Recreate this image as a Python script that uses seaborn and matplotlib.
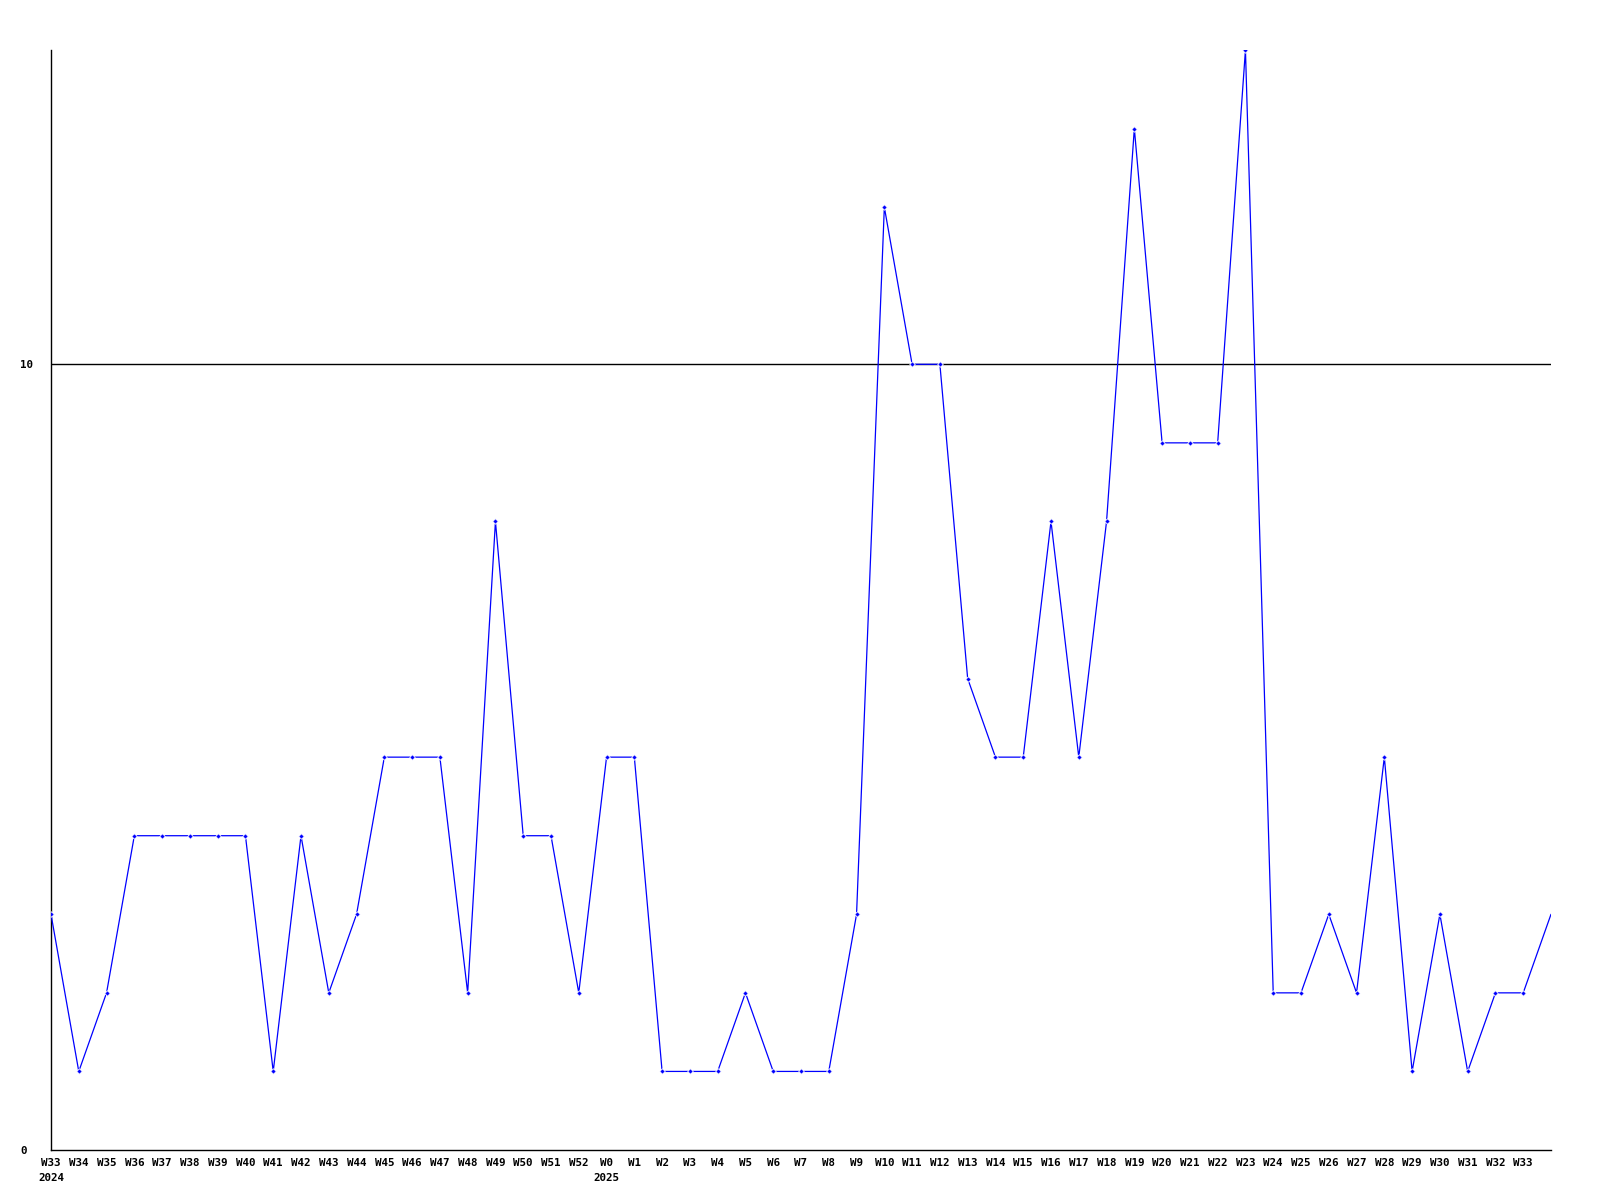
import matplotlib
matplotlib.use("Agg")
import matplotlib.pyplot as plt
import seaborn as sns
import pandas as pd
import numpy as np

weeks = ["W33", "W34", "W35", "W36", "W37", "W38", "W39", "W40", "W41", "W42",
         "W43", "W44", "W45", "W46", "W47", "W48", "W49", "W50", "W51", "W52",
         "W0", "W1", "W2", "W3", "W4", "W5", "W6", "W7", "W8", "W9",
         "W10", "W11", "W12", "W13", "W14", "W15", "W16", "W17", "W18", "W19",
         "W20", "W21", "W22", "W23", "W24", "W25", "W26", "W27", "W28", "W29",
         "W30", "W31", "W32", "W33", "W34"]
years = {0: "2024", 20: "2025"}
values = [3, 1, 2, 4, 4, 4, 4, 4, 1, 4,
          2, 3, 5, 5, 5, 2, 8, 4, 4, 2,
          5, 5, 1, 1, 1, 2, 1, 1, 1, 3,
          12, 10, 10, 6, 5, 5, 8, 5, 8, 13,
          9, 9, 9, 14, 2, 2, 3, 2, 5, 1,
          3, 1, 2, 2, 3]
ytick_vals = [0, 10]
ref_line = 10

sns.set_theme(style="white")
plt.rcParams["font.family"] = ["DejaVu Sans Mono"]

df = pd.DataFrame({"idx": np.arange(len(values)), "value": values})

fig = plt.figure(figsize=(16, 12), dpi=100)
ax = fig.add_axes([51/1600, 1 - 1150/1200, 1500/1600, 1100/1200])

ax.axhline(ref_line, color="black", lw=1.0, zorder=1)
sns.lineplot(data=df, x="idx", y="value", ax=ax, color=(0, 0, 1), lw=0.9,
             marker="D", markersize=2.8, markeredgewidth=0.6,
             markevery=list(range(len(values) - 1)), sort=False, zorder=3)

ax.set_xlim(0, len(values) - 1)
ax.set_ylim(0, 14)

nlab = len(values) - 1
ax.set_xticks(range(nlab))
labels = []
for i in range(nlab):
    if i in years:
        labels.append(weeks[i] + "\n" + years[i])
    else:
        labels.append(weeks[i])
ax.set_xticklabels(labels, fontsize=7.8, fontweight="bold", linespacing=1.7,
                   color="black")
for t in ax.get_xticklabels():
    t.set_verticalalignment("top")
ax.set_yticks(ytick_vals)
ax.set_yticklabels([str(v) for v in ytick_vals], fontsize=7.8, fontweight="bold",
                   color="black")
for t in ax.get_yticklabels():
    t.set_horizontalalignment("left")
ax.tick_params(axis="y", length=0, pad=22)
ax.tick_params(axis="x", length=0, pad=5.5)

ax.set_xlabel("")
ax.set_ylabel("")
for s in ["top", "right"]:
    ax.spines[s].set_visible(False)
for s in ["left", "bottom"]:
    ax.spines[s].set_color("black")
    ax.spines[s].set_linewidth(1.0)
ax.grid(False)

fig.savefig("out.png", dpi=100, facecolor="white")
